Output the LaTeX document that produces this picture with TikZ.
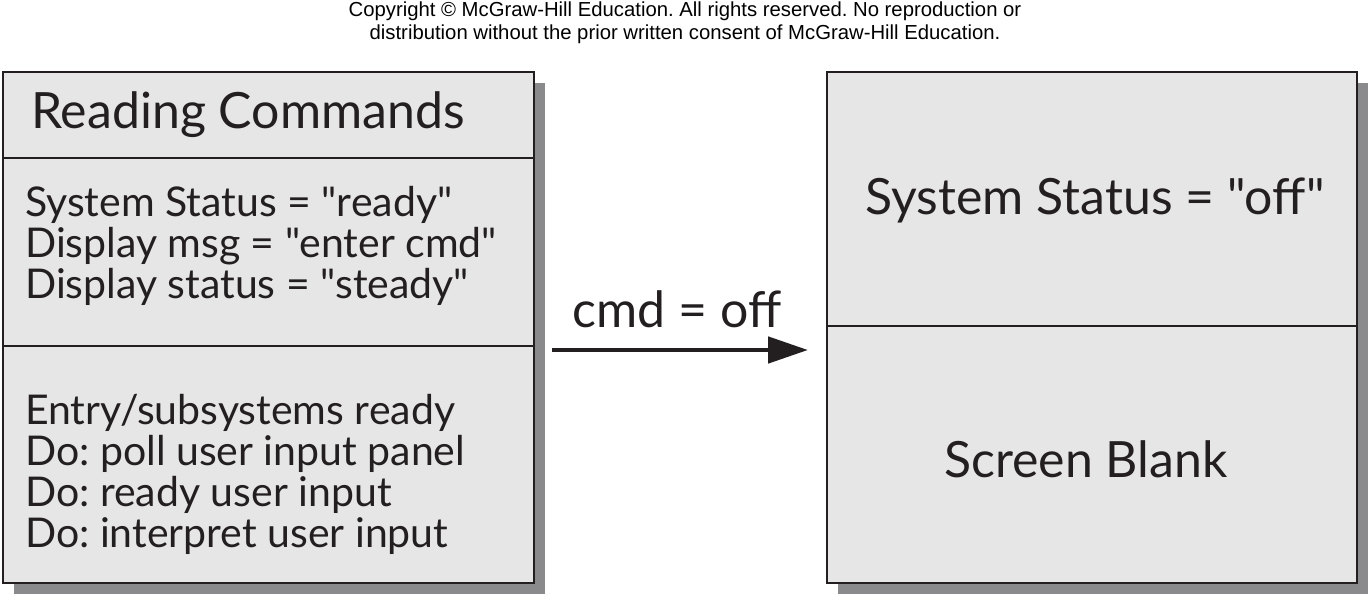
\documentclass[tikz,border=0pt]{standalone}
\usepackage{fontspec}
\setmainfont{Lato}[Ligatures=TeXOff]
\newfontfamily\copyfont{Liberation Sans}[Ligatures=TeXOff]
\usetikzlibrary{arrows.meta}
\definecolor{boxfill}{HTML}{E6E6E7}
\definecolor{shadowgray}{HTML}{8A8A8C}
\definecolor{linecol}{HTML}{231F20}
\tikzset{
  statebox/.style={draw=linecol, line width=2.2pt, fill=boxfill},
  divider/.style={draw=linecol, line width=1.8pt},
  bodytxt/.style={anchor=base west, inner sep=0pt, font=\fontsize{41}{41}\selectfont, text=linecol},
  bigtxt/.style={anchor=base, inner sep=0pt, font=\fontsize{50}{50}\selectfont, text=linecol},
  copytxt/.style={anchor=base, inner sep=0pt, font=\copyfont\fontsize{20.3}{22}\selectfont, text=black},
  transarrow/.style={draw=linecol, line width=4.8pt, -{Triangle[length=40pt,width=26pt]}}
}
\begin{document}
\frenchspacing
\begin{tikzpicture}[x=1pt,y=-1pt]
\useasboundingbox (0,0) rectangle (1371,598);
% copyright
\node[copytxt] (c1) at (685,16) {Copyright © McGraw-Hill Education. All rights reserved. No reproduction or};
\node[copytxt] (c2) at (685,39) {distribution without the prior written consent of McGraw-Hill Education.};
% shadows
\fill[shadowgray] (14,83) rectangle (545,594);
\fill[shadowgray] (838,83) rectangle (1368,594);
% left box
\node[statebox, minimum width=531pt, minimum height=511pt, anchor=north west, inner sep=0pt] (L) at (2,71) {};
\draw[divider] (2,158) -- (533,158);
\draw[divider] (2,346) -- (533,346);
\node[bigtxt, anchor=base west] (Ltitle) at (31,128) {Reading Commands};
\node[bodytxt] (l1) at (25,216) {System Status = "ready"};
\node[bodytxt] (l2) at (25,257) {Display msg = "enter cmd"};
\node[bodytxt] (l3) at (25,298) {Display status = "steady"};
\node[bodytxt] (l4) at (25,424) {Entry/subsystems ready};
\node[bodytxt] (l5) at (25,465) {Do: poll user input panel};
\node[bodytxt] (l6) at (25,506) {Do: ready user input};
\node[bodytxt] (l7) at (25,547) {Do: interpret user input};
% right box
\node[statebox, minimum width=530pt, minimum height=511pt, anchor=north west, inner sep=0pt] (R) at (826,71) {};
\draw[divider] (826,326) -- (1356,326);
\node[bigtxt] (r1) at (1095,214) {System Status = "off"};
\node[bigtxt] (r2) at (1086,477) {Screen Blank};
% transition
\coordinate (astart) at (552,350);
\coordinate (aend) at (808,350);
\draw[transarrow] (astart) -- (aend);
\node[bigtxt] (lab) at (677,327) {cmd = off};
\end{tikzpicture}
\end{document}
